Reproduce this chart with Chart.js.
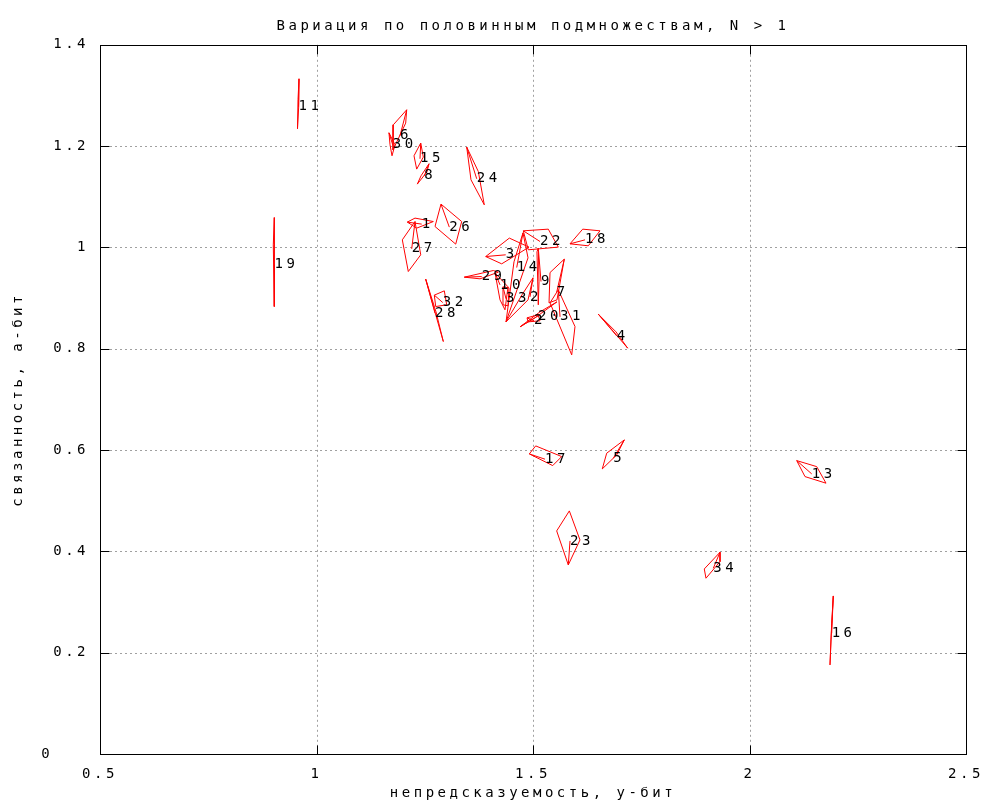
<!DOCTYPE html>
<html>
<head>
<meta charset="utf-8">
<script src="https://cdn.jsdelivr.net/npm/chart.js@4/dist/chart.umd.min.js"></script>
<style>
html,body{margin:0;padding:0;background:#ffffff;}
#wrap{width:1000px;height:800px;position:relative;}
</style>
</head>
<body>
<div id="wrap"><canvas id="c"></canvas></div>
<script>
// ---- text ----
const chartTitle = 'Вариация по половинным подмножествам, N > 1';
const xAxisTitle = 'непредсказуемость, у-бит';
const yAxisTitle = 'связанность, а-бит';

// ---- tick labels ----
const xTickLabels = ['0.5', '1', '1.5', '2', '2.5'];
const yTickLabels = ['0', '0.2', '0.4', '0.6', '0.8', '1', '1.2', '1.4'];

// ---- items: label, full-data point (centre), four half-subset points ----
const itemLabels = ['11','6','30','15','8','24','19','1','27','26','28','32','29','3','22','18',
                    '14','10','33','2','9','7','31','20','2','4','17','5','23','13','34','16'];

const centerX = [0.9584,1.1928,1.1760,1.2390,1.2490,1.3700,0.9030,1.2430,1.2199,1.3067,1.2737,1.2915,1.3815,1.4370,1.5162,1.6201,
                 1.4624,1.4238,1.4377,1.4931,1.5185,1.5547,1.5624,1.5116,1.5023,1.6933,1.5277,1.6855,1.5855,2.1437,1.9164,2.1898];
const centerY = [1.2776,1.2204,1.2026,1.1750,1.1414,1.1355,0.9656,1.0460,0.9972,1.0401,0.8703,0.8912,0.9425,0.9854,1.0117,1.0150,
                 0.9603,0.9261,0.8985,0.9024,0.9327,0.9117,0.8630,0.8649,0.8551,0.8254,0.5820,0.5839,0.4206,0.5529,0.3667,0.2383];

const halfX = [
  [0.9596,0.9590,0.9561,0.9573],
  [1.2083,1.1774,1.1767,1.2060],
  [1.1674,1.1813,1.1744,1.1698],
  [1.2407,1.2467,1.2314,1.2252],
  [1.2598,1.2552,1.2328,1.2414],
  [1.3469,1.3737,1.3875,1.3568],
  [0.9026,0.9030,0.9019,0.9002],
  [1.2097,1.2275,1.2698,1.2314],
  [1.2275,1.2407,1.2120,1.1982],
  [1.2875,1.3353,1.3215,1.2737],
  [1.2522,1.2760,1.2929,1.2714],
  [1.2721,1.2952,1.3007,1.2753],
  [1.3414,1.4083,1.4199,1.3776],
  [1.3908,1.4453,1.4908,1.4277],
  [1.4776,1.5353,1.5584,1.4891],
  [1.5855,1.6148,1.6547,1.6277],
  [1.4769,1.4885,1.4377,1.4561],
  [1.4123,1.4423,1.4353,1.4238],
  [1.4307,1.4446,1.4423,1.4307],
  [1.5000,1.4885,1.4377,1.4746],
  [1.5122,1.5139,1.5122,1.5092],
  [1.5723,1.5554,1.5370,1.5393],
  [1.5584,1.5970,1.5894,1.5393],
  [1.4700,1.5162,1.5554,1.5046],
  [1.4862,1.5116,1.5162,1.4885],
  [1.6508,1.6917,1.7187,1.6825],
  [1.4915,1.5062,1.5663,1.5455],
  [1.7109,1.6702,1.6600,1.6933],
  [1.5815,1.6085,1.5839,1.5547],
  [2.1090,2.1552,2.1767,2.1282],
  [1.9319,1.9319,1.8995,1.8956],
  [2.1935,2.1898,2.1859,2.1882]
];
const halfY = [
  [1.3329,1.2800,1.2342,1.2915],
  [1.2717,1.2421,1.1927,1.2454],
  [1.2263,1.2026,1.1809,1.2026],
  [1.2060,1.1783,1.1546,1.1809],
  [1.1651,1.1493,1.1250,1.1414],
  [1.1981,1.1499,1.0841,1.1335],
  [1.0590,0.9716,0.8833,1.0051],
  [1.0500,1.0579,1.0511,1.0381],
  [1.0511,0.9854,0.9524,1.0150],
  [1.0855,1.0511,1.0065,1.0413],
  [0.9374,0.8728,0.8142,0.8788],
  [0.9058,0.9143,0.8867,0.8833],
  [0.9413,0.9544,0.9512,0.9380],
  [0.9820,1.0184,1.0006,0.9676],
  [1.0328,1.0361,1.0006,0.9953],
  [1.0071,1.0361,1.0328,1.0032],
  [1.0288,0.9795,0.8531,0.9716],
  [0.9498,0.9222,0.8768,0.8965],
  [0.9222,0.9202,0.8847,0.8867],
  [0.9400,0.8965,0.8531,0.9064],
  [0.9986,0.9321,0.8867,0.9913],
  [0.9769,0.8965,0.8906,0.9504],
  [0.9163,0.8438,0.7879,0.8906],
  [0.8432,0.8728,0.8926,0.8610],
  [0.8610,0.8669,0.8551,0.8531],
  [0.8683,0.8333,0.8011,0.8373],
  [0.5924,0.6082,0.5871,0.5693],
  [0.6201,0.5938,0.5628,0.5904],
  [0.3732,0.4226,0.4799,0.4404],
  [0.5792,0.5673,0.5346,0.5476],
  [0.3983,0.3797,0.3470,0.3653],
  [0.3120,0.2581,0.1758,0.2251]
];

// ---- build datasets ----
const FONT_FAMILY = '"DejaVu Sans Mono", "Liberation Mono", monospace';
const FONT_SIZE = 14;
const LETTER_SPACING = '3.5px';

const datasets = itemLabels.map((lab, i) => {
  const pts = [{x: centerX[i], y: centerY[i]}];
  for (let k = 0; k < 4; k++) pts.push({x: halfX[i][k], y: halfY[i][k]});
  pts.push({x: halfX[i][0], y: halfY[i][0]});
  return {
    label: lab,
    data: pts,
    showLine: true,
    borderColor: '#ff0000',
    backgroundColor: '#ff0000',
    borderWidth: 1,
    pointRadius: 0,
    pointHoverRadius: 0,
    fill: false,
    tension: 0
  };
});

const gnuplotLook = {
  id: 'gnuplotLook',
  beforeLayout(chart) { chart.ctx.letterSpacing = LETTER_SPACING; },
  beforeDraw(chart) { chart.ctx.letterSpacing = LETTER_SPACING; },
  beforeDatasetsDraw(chart) {
    const {ctx, chartArea: a, scales: {x, y}} = chart;
    ctx.save();
    ctx.strokeStyle = '#a0a0a0';
    ctx.lineWidth = 1;
    ctx.setLineDash([2, 3]);
    x.ticks.forEach(t => {
      if (t.value <= x.min || t.value >= x.max) return;
      const px = Math.round(x.getPixelForValue(t.value)) + 0.5;
      ctx.beginPath(); ctx.moveTo(px, a.top); ctx.lineTo(px, a.bottom); ctx.stroke();
    });
    y.ticks.forEach(t => {
      if (t.value <= y.min || t.value >= y.max) return;
      const py = Math.round(y.getPixelForValue(t.value)) + 0.5;
      ctx.beginPath(); ctx.moveTo(a.left, py); ctx.lineTo(a.right, py); ctx.stroke();
    });
    ctx.restore();
  },
  afterDatasetsDraw(chart) {
    const {ctx, chartArea: a, scales: {x, y}} = chart;
    ctx.save();
    ctx.setLineDash([]);
    ctx.strokeStyle = '#000000';
    ctx.lineWidth = 1;
    const L = Math.round(a.left) + 0.5, R = Math.round(a.right) + 0.5;
    const T = Math.round(a.top) + 0.5, B = Math.round(a.bottom) + 0.5;
    const TL = 9;
    ctx.beginPath();
    x.ticks.forEach(t => {
      const px = Math.round(x.getPixelForValue(t.value)) + 0.5;
      ctx.moveTo(px, B); ctx.lineTo(px, B - TL);
      ctx.moveTo(px, T); ctx.lineTo(px, T + TL);
    });
    y.ticks.forEach(t => {
      const py = Math.round(y.getPixelForValue(t.value)) + 0.5;
      ctx.moveTo(L, py); ctx.lineTo(L + TL, py);
      ctx.moveTo(R, py); ctx.lineTo(R - TL, py);
    });
    ctx.stroke();
    ctx.strokeRect(L, T, R - L, B - T);
    // item labels at the full-data points
    ctx.letterSpacing = LETTER_SPACING;
    ctx.font = FONT_SIZE + 'px ' + FONT_FAMILY;
    ctx.fillStyle = '#000000';
    ctx.textAlign = 'left';
    ctx.textBaseline = 'middle';
    itemLabels.forEach((lab, i) => {
      ctx.fillText(lab, x.getPixelForValue(centerX[i]), y.getPixelForValue(centerY[i]));
    });
    ctx.restore();
  }
};

Chart.defaults.font.family = FONT_FAMILY;
Chart.defaults.font.size = FONT_SIZE;
Chart.defaults.color = '#000000';

new Chart(document.getElementById('c'), {
  type: 'scatter',
  data: { datasets },
  options: {
    responsive: true,
    maintainAspectRatio: false,
    animation: false,
    events: [],
    layout: { padding: { left: 0, right: 34, top: 0, bottom: 0 } },
    plugins: {
      legend: { display: false },
      tooltip: { enabled: false },
      title: {
        display: true,
        text: chartTitle,
        fullSize: false,
        color: '#000000',
        font: { family: FONT_FAMILY, size: FONT_SIZE, weight: 'normal' },
        padding: { top: 18, bottom: 10 }
      }
    },
    scales: {
      x: {
        type: 'linear',
        min: 0.5, max: 2.5,
        grid: { display: false },
        border: { display: false },
        ticks: {
          stepSize: 0.5,
          autoSkip: false,
          maxRotation: 0,
          padding: 4,
          color: '#000000',
          callback: (v, i) => xTickLabels[i]
        },
        title: { display: true, text: xAxisTitle, color: '#000000',
                 font: { family: FONT_FAMILY, size: FONT_SIZE, lineHeight: 1 },
                 padding: { top: 0, bottom: 0 } },
        afterFit: s => { s.height = 46; }
      },
      y: {
        type: 'linear',
        min: 0, max: 1.4,
        grid: { display: false },
        border: { display: false },
        ticks: {
          stepSize: 0.2,
          autoSkip: false,
          padding: 3,
          color: '#000000',
          callback: (v, i) => (i === 0 ? yTickLabels[i] + '   ' : yTickLabels[i])
        },
        title: { display: true, text: yAxisTitle, color: '#000000', padding: { top: 10, bottom: 0 } },
        afterFit: s => { s.width = 100; }
      }
    }
  },
  plugins: [gnuplotLook]
});
</script>
</body>
</html>
